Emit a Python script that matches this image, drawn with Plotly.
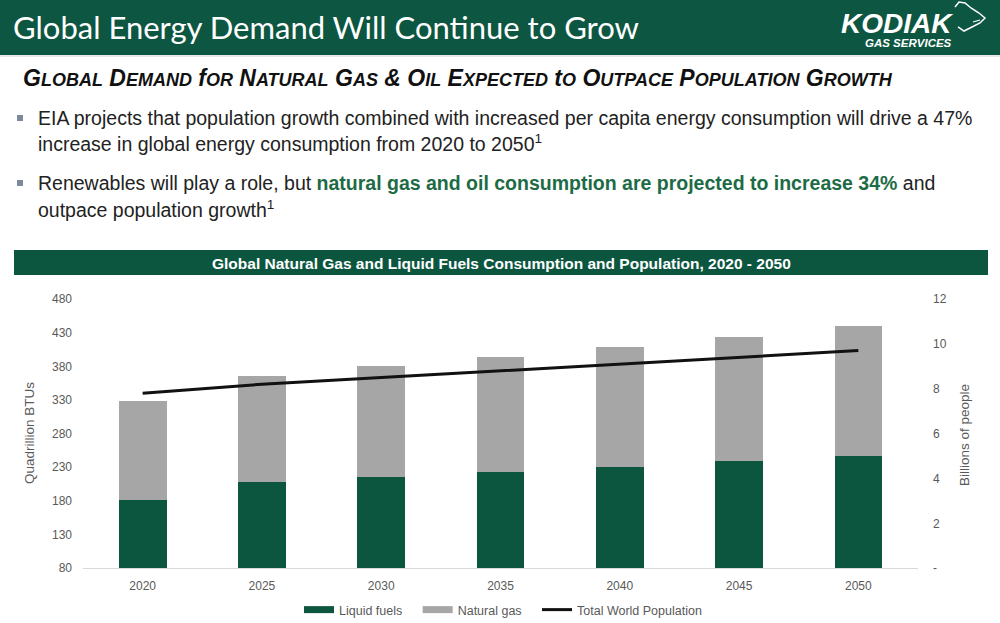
import plotly.graph_objs as go

# data
years = ["2020", "2025", "2030", "2035", "2040", "2045", "2050"]
liquid_fuels = [182, 208, 215, 223, 230, 240, 247]
total_btu = [329, 366, 381, 394, 409, 424, 440]
natural_gas = [t - l for t, l in zip(total_btu, liquid_fuels)]
population = [7.8, 8.2, 8.5, 8.8, 9.1, 9.4, 9.7]

left_ticks = [80, 130, 180, 230, 280, 330, 380, 430, 480]
right_ticks = [0, 2, 4, 6, 8, 10, 12]
right_tick_text = ["-", "2", "4", "6", "8", "10", "12"]

GREEN = "#0c5640"
GREY = "#a6a6a6"
TICK_GREY = "#595959"
FONT = "Liberation Sans, Arial, sans-serif"
NBSP = "\u00a0"

# rough outline of the bear head in the logo (slide pixels)
bear_outline = [(955, 7), (959, 2), (965, 3), (971, 8), (979, 13), (985, 18),
                (980, 23), (972, 27), (964, 31), (958, 27)]
bear_mouth = [(973, 22), (980, 20)]


def px_y(py):
    # slide pixel row -> paper y
    return 1 - py / 623.0


def px_path(points):
    return "M " + " L ".join("%.4f,%.4f" % (x / 1000.0, px_y(y)) for x, y in points)


def small_caps(text, small=18):
    out = []
    for word in text.split(" "):
        if word[0].isalpha():
            out.append(word[0] + "<span style='font-size:%dpx'>%s</span>" % (small, word[1:].upper()))
        else:
            out.append(word)
    return "<b><i>" + " ".join(out) + "</i></b>"


liq_bar = go.Bar(
    x=years,
    y=liquid_fuels,
    name="Liquid fuels",
    marker=dict(color=GREEN, line=dict(width=0)),
    width=0.4,
    yaxis="y1",
    showlegend=False,
)
gas_bar = go.Bar(
    x=years,
    y=natural_gas,
    name="Natural gas",
    marker=dict(color=GREY, line=dict(width=0)),
    width=0.4,
    yaxis="y1",
    showlegend=False,
)
pop_line = go.Scatter(
    x=years,
    y=population,
    name="Total World Population",
    mode="lines",
    line=dict(color="#111111", width=3),
    yaxis="y2",
)

# legend keys drawn as wide flat bars, like the slide
liq_key = go.Scatter(x=[None], y=[None], mode="lines", name="Liquid fuels" + NBSP * 3,
                     line=dict(color=GREEN, width=7))
gas_key = go.Scatter(x=[None], y=[None], mode="lines", name="Natural gas" + NBSP * 3,
                     line=dict(color=GREY, width=7))

layout = dict(
    width=1000,
    height=623,
    margin=dict(l=0, r=0, t=0, b=0, autoexpand=False),
    paper_bgcolor="white",
    plot_bgcolor="white",
    barmode="stack",
    font=dict(family=FONT, color=TICK_GREY, size=12),
    xaxis=dict(
        domain=[0.083, 0.918],
        showgrid=False,
        showline=True,
        linecolor="#d9d9d9",
        linewidth=1,
        ticks="",
        tickfont=dict(size=12, color=TICK_GREY),
        ticklabelstandoff=6,
        anchor="y",
    ),
    yaxis=dict(
        domain=[0.088, 0.520],
        range=[80, 480],
        tickvals=left_ticks,
        showgrid=False,
        zeroline=False,
        showline=False,
        tickfont=dict(size=12, color=TICK_GREY),
        ticklabelstandoff=10,
    ),
    yaxis2=dict(
        domain=[0.088, 0.520],
        range=[0, 12],
        overlaying="y",
        side="right",
        tickvals=right_ticks,
        ticktext=right_tick_text,
        showgrid=False,
        zeroline=False,
        showline=False,
        tickfont=dict(size=12, color=TICK_GREY),
        ticklabelstandoff=14,
    ),
    legend=dict(
        orientation="h",
        x=0.503,
        xanchor="center",
        y=px_y(610),
        yanchor="middle",
        font=dict(size=12.5, color=TICK_GREY),
        traceorder="normal",
        itemwidth=30,
    ),
    shapes=[
        # header band
        dict(type="rect", xref="paper", yref="paper", x0=0, x1=1, y0=px_y(55), y1=1,
             fillcolor="#0d5641", line=dict(width=0), layer="below"),
        dict(type="line", xref="paper", yref="paper", x0=0, x1=1, y0=px_y(56), y1=px_y(56),
             line=dict(color="#d0d0d0", width=1)),
        # logo bear head
        dict(type="path", xref="paper", yref="paper", path=px_path(bear_outline),
             line=dict(color="white", width=1.5)),
        dict(type="path", xref="paper", yref="paper", path=px_path(bear_mouth),
             line=dict(color="white", width=1.2)),
        # chart title band
        dict(type="rect", xref="paper", yref="paper", x0=0.014, x1=0.988, y0=px_y(275), y1=px_y(250),
             fillcolor=GREEN, line=dict(width=0), layer="below"),
        # bullet markers
        dict(type="rect", xref="paper", yref="paper", x0=0.017, x1=0.023, y0=px_y(121), y1=px_y(115),
             fillcolor="#7d8a9c", line=dict(width=0)),
        dict(type="rect", xref="paper", yref="paper", x0=0.017, x1=0.023, y0=px_y(186), y1=px_y(180),
             fillcolor="#7d8a9c", line=dict(width=0)),
    ],
    annotations=[
        dict(text="Global Energy Demand Will Continue to Grow", xref="paper", yref="paper",
             x=0.011, y=px_y(27), xanchor="left", yanchor="middle", showarrow=False,
             font=dict(family="Lato, sans-serif", size=31, color="white")),
        dict(text="<b><i>KODIAK</i></b>", xref="paper", yref="paper",
             x=0.955, y=px_y(23), xanchor="right", yanchor="middle", showarrow=False,
             font=dict(family=FONT, size=28, color="white")),
        dict(text="<b><i>GAS SERVICES</i></b>", xref="paper", yref="paper",
             x=0.954, y=px_y(43), xanchor="right", yanchor="middle", showarrow=False,
             font=dict(family=FONT, size=11.5, color="white")),
        dict(text=small_caps("Global Demand for Natural Gas & Oil Expected to Outpace Population Growth"),
             xref="paper", yref="paper", x=0.021, y=px_y(78), xanchor="left", yanchor="middle",
             showarrow=False, font=dict(family=FONT, size=23, color="#111111")),
        dict(text="EIA projects that population growth combined with increased per capita energy consumption will drive a 47%",
             xref="paper", yref="paper", x=0.036, y=px_y(118), xanchor="left", yanchor="middle",
             showarrow=False, font=dict(family=FONT, size=19.5, color="#222222")),
        dict(text="increase in global energy consumption from 2020 to 2050<sup>1</sup>",
             xref="paper", yref="paper", x=0.036, y=px_y(143), xanchor="left", yanchor="middle",
             showarrow=False, font=dict(family=FONT, size=19.5, color="#222222")),
        dict(text="Renewables will play a role, but <b><span style='color:#1d6b45'>natural gas and oil consumption are projected to increase 34%</span></b> and",
             xref="paper", yref="paper", x=0.036, y=px_y(183), xanchor="left", yanchor="middle",
             showarrow=False, font=dict(family=FONT, size=19.5, color="#222222")),
        dict(text="outpace population growth<sup>1</sup>",
             xref="paper", yref="paper", x=0.036, y=px_y(209), xanchor="left", yanchor="middle",
             showarrow=False, font=dict(family=FONT, size=19.5, color="#222222")),
        dict(text="<b>Global Natural Gas and Liquid Fuels Consumption and Population, 2020 - 2050</b>",
             xref="paper", yref="paper", x=0.501, y=px_y(263), xanchor="center", yanchor="middle",
             showarrow=False, font=dict(family=FONT, size=15.5, color="white")),
        dict(text="Quadrillion BTUs", xref="paper", yref="paper", x=0.029, y=px_y(433),
             xanchor="center", yanchor="middle", textangle=-90, showarrow=False,
             font=dict(family=FONT, size=13.5, color=TICK_GREY)),
        dict(text="Billions of people", xref="paper", yref="paper", x=0.964, y=px_y(435),
             xanchor="center", yanchor="middle", textangle=-90, showarrow=False,
             font=dict(family=FONT, size=13.5, color=TICK_GREY)),
    ],
)

fig = go.Figure(data=[liq_bar, gas_bar, liq_key, gas_key, pop_line], layout=layout)

# pin the figure to the page corner (no default body margin / scroll)
pin_js = (
    "document.documentElement.style.overflow='hidden';"
    "document.body.style.margin='0';"
    "document.body.style.overflow='hidden';"
    "var d=document.querySelector('.plotly-graph-div');"
    "d.style.position='absolute';d.style.top='0';d.style.left='0';"
)
fig.write_html("out.html", config=dict(displayModeBar=False), post_script=pin_js)
